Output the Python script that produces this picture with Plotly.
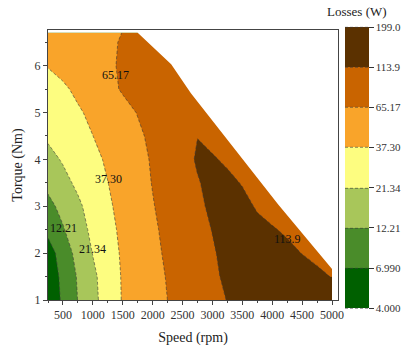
import numpy as np
import plotly.graph_objects as go

# ---- data ----
speed = [250, 500, 750, 1000, 1250, 1500, 1750, 2000, 2250, 2500, 2750, 3000,
         3250, 3500, 3750, 4000, 4250, 4500, 4750, 5000]
torque = [1.0, 1.5, 2.0, 2.5, 3.0, 3.5, 4.0, 4.5, 5.0, 5.5, 6.0, 6.5, 6.7]

losses = [
    [4.70, 7.64, 12.35, 18.4, 27.4, 38.6, 46.1, 54.8, 65.3, 75.3, 87.1, 100.7, 115.2, 123.1, 132.5, 142.4, 152.3, 163.7, 175.0, 188.2],
    [4.92, 7.99, 12.84, 19.08, 28.05, 39.0, 46.9, 56.1, 67.0, 77.9, 90.1, 104.7, 123.8, 131.0, 140.8, 150.6, 140.0, 130.2, 121.1, 112.6],
    [5.41, 9.04, 14.52, 21.70, 30.0, 39.9, 48.2, 58.6, 69.7, 81.0, 94.2, 109.5, 127.3, 134.7, 136.9, 131.0, 121.8, 113.2, 105.9, 98.5],
    [7.99, 11.68, 17.07, 23.99, 32.4, 41.2, 50.1, 60.9, 72.1, 84.2, 98.5, 115.2, 122.5, 131.0, 123.1, 116.5, 109.5, 103.6, 97.4, 92.1],
    [10.51, 14.27, 19.51, 26.09, 34.67, 43.1, 52.4, 63.7, 75.3, 88.6, 104.1, 123.8, 131.0, 123.8, 110.7, 103.0, 95.2, 88.1, 81.5, 75.8],
    [14.04, 18.56, 23.46, 29.49, 37.07, 45.1, 54.8, 66.3, 78.8, 93.1, 110.7, 127.3, 121.8, 112.0, 105.9, 100.1, 94.7, 89.6, 84.7, 80.1],
    [18.4, 22.31, 27.13, 32.97, 39.9, 47.7, 57.0, 68.1, 81.5, 97.4, 119.1, 117.1, 108.9, 101.3, 94.2, 87.6, 81.5, 75.8, 70.5, 65.5],
    [22.94, 26.97, 31.71, 37.2, 43.85, 51.5, 60.6, 71.3, 83.7, 97.4, 113.2, 104.7, 99.1, 92.1, 86.1, 80.6, 75.3, 70.5, 65.9, 61.6],
    [25.65, 30.16, 35.25, 41.2, 48.5, 56.7, 66.3, 77.5, 88.6, 99.1, 104.7, 101.9, 96.3, 91.1, 86.1, 81.5, 77.0, 72.9, 68.9, 64.0],
    [29.17, 34.67, 41.0, 48.75, 57.6, 68.1, 79.2, 91.1, 101.9, 107.7, 107.7, 104.7, 101.9, 96.3, 91.1, 86.1, 81.5, 77.0, 72.9, 68.9],
    [38.36, 43.1, 48.2, 54.2, 60.9, 68.9, 79.2, 88.6, 96.3, 99.1, 101.9, 101.9, 99.1, 96.3, 91.1, 86.1, 81.5, 77.0, 72.9, 68.9],
    [41.7, 46.6, 52.1, 56.7, 61.6, 67.0, 77.0, 86.1, 91.1, 93.6, 96.3, 96.3, 93.6, 91.1, 86.1, 81.5, 77.0, 72.9, 68.9, 65.0],
    [44.1, 47.9, 52.1, 56.7, 60.9, 65.5, 74.9, 83.7, 88.6, 91.1, 93.6, 93.6, 91.1, 88.6, 86.1, 81.5, 77.0, 72.9, 68.9, 65.0],
]

levels = [4.0, 6.99, 12.21, 21.34, 37.30, 65.17, 113.9, 199.0]
level_labels = ["4.000", "6.990", "12.21", "21.34", "37.30", "65.17", "113.9", "199.0"]
band_colors = ["#006000", "#4a8c2a", "#a8c65a", "#fdfd80", "#f9a42a", "#c96400", "#5b3100"]

# maximum-torque envelope (operating limit)
env_speed = [1750, 2310, 2640, 4100, 5000]
env_torque = [6.7, 6.03, 5.41, 3.04, 1.66]

# contour labels
lab_text = ["65.17", "37.30", "21.34", "12.21", "113.9"]
lab_speed = [1383, 1267, 1002, 505, 4248]
lab_torque = [5.81, 3.59, 2.09, 2.53, 2.30]

# ---- figure ----
FONT = "Liberation Serif"
lz = np.log10(levels)
z = np.log10(np.array(losses))
n = len(band_colors)
cs = []
for i, c in enumerate(band_colors):
    cs.append([i / n, c])
    cs.append([(i + 1) / n, c])

fig = go.Figure()
fig.add_trace(go.Contour(
    x=speed, y=torque, z=z,
    zmin=lz[0], zmax=lz[-1], zauto=False,
    autocontour=False,
    contours=dict(start=lz[0], end=lz[-1] + 1e-9, size=(lz[-1] - lz[0]) / n,
                  coloring="fill", showlines=True),
    line=dict(color="#3a3a3a", width=0.6, dash="3px,2px", smoothing=0),
    colorscale=cs,
    showscale=True,
    colorbar=dict(
        x=1.024, xanchor="left", xpad=0,
        y=0.49, yanchor="middle", ypad=0,
        len=281, lenmode="pixels", thickness=24, thicknessmode="pixels",
        outlinewidth=0,
        tickmode="array", tickvals=list(lz), ticktext=level_labels,
        ticks="outside", ticklen=5, tickcolor="#333",
        tickfont=dict(family=FONT, size=11, color="#333"),
    ),
    hoverinfo="skip",
))

# mask the region beyond the torque-speed envelope
fig.add_trace(go.Scatter(
    x=env_speed + [5100, 5100, env_speed[0]],
    y=env_torque + [env_torque[-1], 6.9, 6.9],
    fill="toself", fillcolor="white", mode="lines",
    line=dict(width=0, color="white"), showlegend=False, hoverinfo="skip",
))

for t, sx, ty in zip(lab_text, lab_speed, lab_torque):
    fig.add_annotation(x=sx, y=ty, text=t, showarrow=False,
                       font=dict(family=FONT, size=12, color="#111"))

fig.add_annotation(x=1.065, y=1.068, xref="paper", yref="paper", text="Losses (W)",
                   showarrow=False, xanchor="center", yanchor="middle",
                   font=dict(family=FONT, size=13, color="#222"))

axis_common = dict(showline=True, mirror=True, linecolor="#444", linewidth=1,
                   ticks="outside", ticklen=4, tickcolor="#444",
                   showgrid=False, zeroline=False,
                   tickfont=dict(family=FONT, size=12, color="#333"))

fig.update_xaxes(range=[250, 5100], tickvals=[500, 1000, 1500, 2000, 2500, 3000, 3500, 4000, 4500, 5000],
                 minor=dict(dtick=250, tick0=250, ticks="outside", ticklen=2, tickcolor="#444"),
                 title=dict(text="Speed (rpm)", font=dict(family=FONT, size=14, color="#222"), standoff=10),
                 **axis_common)
fig.update_yaxes(range=[1, 6.76], tickvals=[1, 2, 3, 4, 5, 6],
                 minor=dict(dtick=0.5, tick0=1, ticks="outside", ticklen=2, tickcolor="#444"),
                 title=dict(text="Torque (Nm)", font=dict(family=FONT, size=14, color="#222"), standoff=8),
                 **axis_common)

fig.update_layout(
    width=413, height=354,
    margin=dict(l=48, r=73, t=30, b=45),
    paper_bgcolor="white", plot_bgcolor="white",
    showlegend=False,
)

fig.write_html("out.html")
